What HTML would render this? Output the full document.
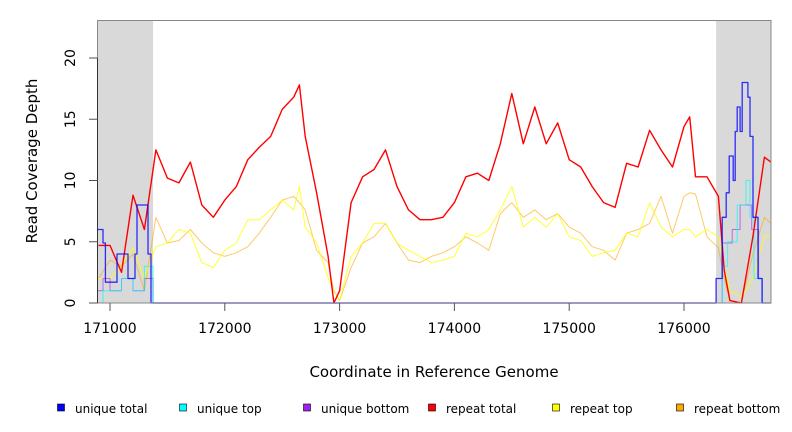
<!DOCTYPE html>
<html><head><meta charset="utf-8"><style>
body{margin:0;background:#fff;}
svg{display:block;font-family:"DejaVu Sans","Liberation Sans",sans-serif;}
</style></head><body>
<svg id="chart" width="792" height="432" viewBox="0 0 792 432">
<g id="bg"></g>
<g id="series"></g>
<g id="axes"></g>
<text x="434" y="377" font-size="15" text-anchor="middle">Coordinate in Reference Genome</text>
<text x="0" y="0" font-size="15" text-anchor="middle" transform="translate(37,161) rotate(-90)">Read Coverage Depth</text>
<g id="legend"></g>
</svg>
<script>
const positions=[170900,171000,171100,171200,171300,171400,171500,171600,171700,171800,171900,172000,172100,172200,172300,172400,172500,172600,172650,172700,172800,172900,172950,173000,173100,173200,173300,173400,173500,173600,173700,173800,173900,174000,174100,174200,174300,174400,174500,174600,174700,174800,174900,175000,175100,175200,175300,175400,175500,175600,175700,175800,175900,176000,176050,176100,176200,176300,176350,176400,176500,176600,176700,176757];
const repeatTotal=[4.7,4.7,2.5,8.8,6,12.5,10.2,9.8,11.5,8,7,8.4,9.5,11.7,12.7,13.6,15.8,16.8,17.8,13.6,9,3.8,0,1,8.2,10.3,10.9,12.5,9.5,7.6,6.8,6.8,7,8.2,10.3,10.6,10,13,17.1,13,16,13,14.7,11.7,11.1,9.5,8.2,7.8,11.4,11.1,14.1,12.5,11.1,14.4,15.2,10.3,10.3,8.7,2.7,0.2,0,5.4,11.9,11.5];
const repeatTop=[2,2,3,4.5,2,4.6,4.9,6,5.7,3.3,2.9,4.3,4.9,6.8,6.8,7.6,8.4,7.6,9.5,6.2,4.9,2.1,1,0.2,3.8,4.9,6.5,6.5,4.9,4.3,3.8,3.3,3.5,3.8,5.7,5.4,6,7.6,9.5,6.2,7,6.2,7.3,5.4,5.1,3.8,4.1,4.3,5.7,5.4,8.2,6.2,5.4,6,6,5.4,6,5.4,3,1,0.5,2,5.5,5.5];
const repeatBottom=[2,3.5,3,4,1,7,4.9,5.1,6,4.9,4.1,3.8,4.1,4.6,5.7,7,8.4,8.7,8.2,7.6,4.3,3.3,1,0.2,2.9,4.9,5.4,6.5,4.9,3.5,3.3,3.8,4.1,4.6,5.4,4.9,4.3,7.3,8.2,7,7.6,6.8,7.3,6.2,5.7,4.6,4.3,3.5,5.7,6,6.5,8.7,5.7,8.7,9,8.9,5.4,4.5,2,0.2,0,4,7,6.5];
const uniqueTotalX=[170887,170939,170960,171061,171157,171218,171235,171331,171357,171375,176280,176333,176368,176394,176429,176446,176463,176489,176507,176557,176575,176601,176645,176680,176757];
const uniqueTotalY=[6,4.9,1.7,4,2,4,8,4,0,0,2,7,9,12,10,14,16,14,18,16.8,13.6,7,2,0,0];
const uniqueTopX=[170887,170939,171000,171100,171200,171300,171375,176280,176333,176380,176463,176540,176575,176610,176680,176757];
const uniqueTopY=[0,1,1,2,1,3,0,0,3,5,8,10,7,2,0,0];
const uniqueBottomX=[170887,170939,171000,171100,171200,171300,171375,176280,176333,176420,176489,176590,176650,176680,176757];
const uniqueBottomY=[1,2,1,2,1,2,0,0,4.9,6,8,6,2,0,0];
const xTicks=[171000,172000,173000,174000,175000,176000];
const yTicks=[0,5,10,15,20];
const greyRegions=[[170887,171375],[176280,176757]];
const legendLabels=["unique total","unique top","unique bottom","repeat total","repeat top","repeat bottom"];
const legendColors=["#0000ff","#00ffff","#a020f0","#ff0000","#ffff00","#ffa500"];

const L=97.5,R=771,T=20.5,B=303;
const xs=c=>110+(c-171000)*0.1148;
const ys=v=>B-v*12.25;
const NS="http://www.w3.org/2000/svg";
function mk(tag,attrs,parent){const e=document.createElementNS(NS,tag);for(const k in attrs)e.setAttribute(k,attrs[k]);parent.appendChild(e);return e;}
const bg=document.getElementById('bg'),sg=document.getElementById('series'),ax=document.getElementById('axes'),lg=document.getElementById('legend');
mk('rect',{x:L,y:T,width:R-L,height:B-T,fill:'#fff'},bg);
greyRegions.forEach((g,i)=>{const r=mk('rect',{x:Math.max(L,xs(g[0])),y:T,width:Math.min(R,xs(g[1]))-Math.max(L,xs(g[0])),height:B-T,fill:'#d9d9d9'},bg);

});
function stepPath(X,Y){let d='';for(let i=0;i<X.length;i++){const x=Math.min(R,Math.max(L,xs(X[i]))).toFixed(1),y=ys(Y[i]).toFixed(1);if(i===0)d+='M'+x+','+y;else{d+='H'+x+'V'+y;}}return d;}
function linePath(X,Y){let d='';for(let i=0;i<X.length;i++){const x=Math.min(R,Math.max(L,xs(X[i]))).toFixed(1),y=ys(Y[i]).toFixed(1);d+=(i?'L':'M')+x+','+y;}return d;}
function draw(X,Y,color,w,op,name,step){const p=mk('path',{d:step?stepPath(X,Y):linePath(X,Y),fill:'none',stroke:color,'stroke-width':w,'stroke-opacity':op,'stroke-linejoin':'round'},sg);

}
draw(positions,repeatBottom,'#ffa500',1,0.6,'repeat-bottom-line',false);
draw(positions,repeatTop,'#ffff00',1,0.8,'repeat-top-line',false);
draw(uniqueBottomX,uniqueBottomY,'#a020f0',1,0.6,'unique-bottom-line',true);
draw(uniqueTopX,uniqueTopY,'#00ffff',1,0.7,'unique-top-line',true);
draw(positions,repeatTotal,'#ff0000',1.4,1,'repeat-total-line',false);
draw(uniqueTotalX,uniqueTotalY,'#0000ff',1.3,0.8,'unique-total-line',true);
const z=mk('line',{x1:xs(171375),y1:B,x2:xs(176280),y2:B,stroke:'#5555ee','stroke-width':1.3},sg);


mk('rect',{x:L,y:T,width:R-L,height:B-T,fill:'none',stroke:'#888','stroke-width':1},ax);
mk('line',{x1:L,y1:ys(0),x2:L,y2:ys(20),stroke:'#333'},ax);
yTicks.forEach(v=>{const y=ys(v);mk('line',{x1:89,y1:y,x2:L,y2:y,stroke:'#555'},ax);
const t=mk('text',{x:0,y:0,'font-size':14,'text-anchor':'middle',transform:`translate(75,${y}) rotate(-90)`},ax);t.textContent=v;

});
xTicks.forEach(c=>{const x=xs(c);mk('line',{x1:x,y1:B,x2:x,y2:311,stroke:'#555'},ax);
const t=mk('text',{x:x,y:333,'font-size':14,'text-anchor':'middle'},ax);t.textContent=c;

});
const lx=[61,183,307,432,556,680];
legendLabels.forEach((s,i)=>{const g=mk('g',{},lg);


mk('rect',{x:lx[i]-3.5,y:404,width:7,height:7,fill:legendColors[i],stroke:'#000','stroke-width':0.6},g);
const t=mk('text',{x:lx[i]+14,y:413,'font-size':12},g);t.textContent=s;});
</script>
</body></html>
